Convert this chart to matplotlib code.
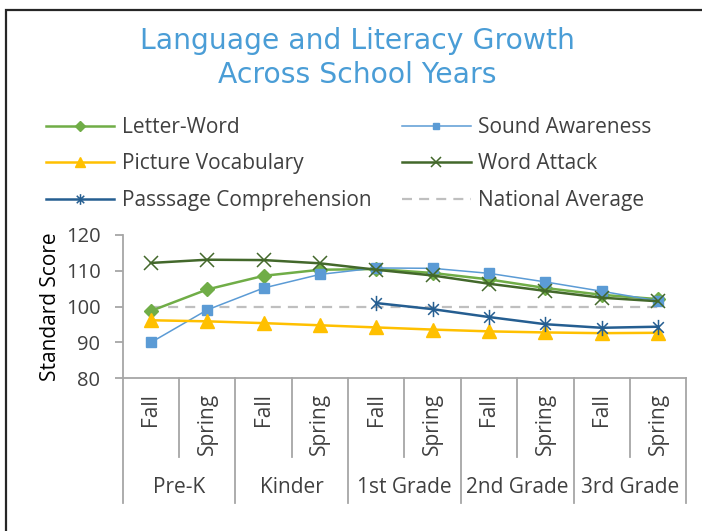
import numpy as np
import matplotlib
matplotlib.use("Agg")
import matplotlib.pyplot as plt
from matplotlib.path import Path
from matplotlib.patches import Rectangle

plt.rcParams["font.family"] = ["Open Sans", "DejaVu Sans"]

seasons = ["Fall", "Spring"] * 5
grades = ["Pre-K", "Kinder", "1st Grade", "2nd Grade", "3rd Grade"]

letter_word = [98.8, 104.8, 108.6, 110.3, 110.5, 109.4, 107.6, 105.2, 103.3, 102.1]
sound_awareness = [90.0, 99.1, 105.2, 109.0, 110.8, 110.7, 109.3, 106.9, 104.3, 101.6]
picture_vocab = [96.2, 95.9, 95.4, 94.8, 94.2, 93.6, 93.1, 92.8, 92.6, 92.7]
word_attack = [112.2, 113.1, 113.0, 112.1, 110.3, 108.7, 106.4, 104.4, 102.5, 101.5]
passage_comp = [np.nan, np.nan, np.nan, np.nan, 101.0, 99.3, 97.1, 95.1, 94.1, 94.4]
national_avg = [100] * 10

text_col = "#404040"
axis_col = "#A6A6A6"

# excel style star marker: x with a vertical bar
star = Path([(0, -1), (0, 1), (-0.7, -0.7), (0.7, 0.7), (-0.7, 0.7), (0.7, -0.7)],
            [Path.MOVETO, Path.LINETO] * 3)

fig = plt.figure(figsize=(7.02, 5.31), dpi=100)
ax = fig.add_axes([122.7 / 702, 152.7 / 531, 563.5 / 702, 143.3 / 531])

x = np.arange(len(seasons))
h_na, = ax.plot(x, national_avg, color="#BFBFBF", lw=1.6, ls=(0, (4.5, 3.2)), zorder=1, label="National Average")
h_lw, = ax.plot(x, letter_word, color="#70AD47", lw=1.8, marker="D", ms=7.5, zorder=3, label="Letter-Word")
h_sa, = ax.plot(x, sound_awareness, color="#5B9BD5", lw=1.1, marker="s", ms=7, zorder=3, label="Sound Awareness")
h_pv, = ax.plot(x, picture_vocab, color="#FFC000", lw=1.8, marker="^", ms=10, zorder=3, label="Picture Vocabulary")
h_wa, = ax.plot(x, word_attack, color="#43682B", lw=1.8, marker="x", ms=10, mew=1.1, zorder=3, label="Word Attack")
h_pc, = ax.plot(x, passage_comp, color="#255E91", lw=1.8, marker=star, ms=11, mew=1.1, zorder=3,
                label="Passsage Comprehension")

ax.set_xlim(-0.5, len(seasons) - 0.5)
ax.set_ylim(80, 120)
ax.set_yticks([80, 90, 100, 110, 120])
ax.set_xticks([])
for s in ["top", "right"]:
    ax.spines[s].set_visible(False)
for s in ["left", "bottom"]:
    ax.spines[s].set_color(axis_col)
    ax.spines[s].set_linewidth(1.3)
ax.tick_params(axis="y", colors=axis_col, labelcolor=text_col, labelsize=14.5, length=5.5, width=1.3, pad=10.5)
ax.text(-0.128, 0.5, "Standard Score", transform=ax.transAxes, rotation=90, ha="center", va="center",
        fontsize=15, color="black")

# category table under the axis
tr = ax.get_xaxis_transform()
for i, s in enumerate(seasons):
    ax.text(i, -0.105, s, transform=tr, rotation=90, ha="center", va="top", fontsize=15, color=text_col)
for i in range(len(seasons) + 1):
    depth = -0.87 if i % 2 == 0 else -0.548
    ax.plot([i - 0.5, i - 0.5], [0, depth], transform=tr, color=axis_col, lw=1.3, clip_on=False)
for g, name in enumerate(grades):
    ax.text(2 * g + 0.5, -0.762, name, transform=tr, ha="center", va="center", fontsize=15, color=text_col)

fig.text(357 / 702, 1 - 49 / 531, "Language and Literacy Growth", ha="center", va="baseline",
         fontsize=20.3, color="#4A9DD6", family="DejaVu Sans")
fig.text(357 / 702, 1 - 83 / 531, "Across School Years", ha="center", va="baseline",
         fontsize=20.3, color="#4A9DD6", family="DejaVu Sans")

handles = [h_lw, h_pv, h_pc, h_sa, h_wa, h_na]
fig.legend(handles=handles, loc="upper left", bbox_to_anchor=(45.7 / 702, 1 - 117 / 531), ncol=2, frameon=False,
           fontsize=15, handlelength=3.27, handletextpad=0.37, columnspacing=1.5, labelspacing=0.74,
           borderpad=0, borderaxespad=0, labelcolor=text_col, markerscale=0.7)

fig.patches.append(Rectangle((6 / 702, -0.05), 1.1, 0.05 + 521 / 531, transform=fig.transFigure,
                             fill=False, edgecolor="#262626", lw=1.6))

fig.savefig("out.png", dpi=100)
